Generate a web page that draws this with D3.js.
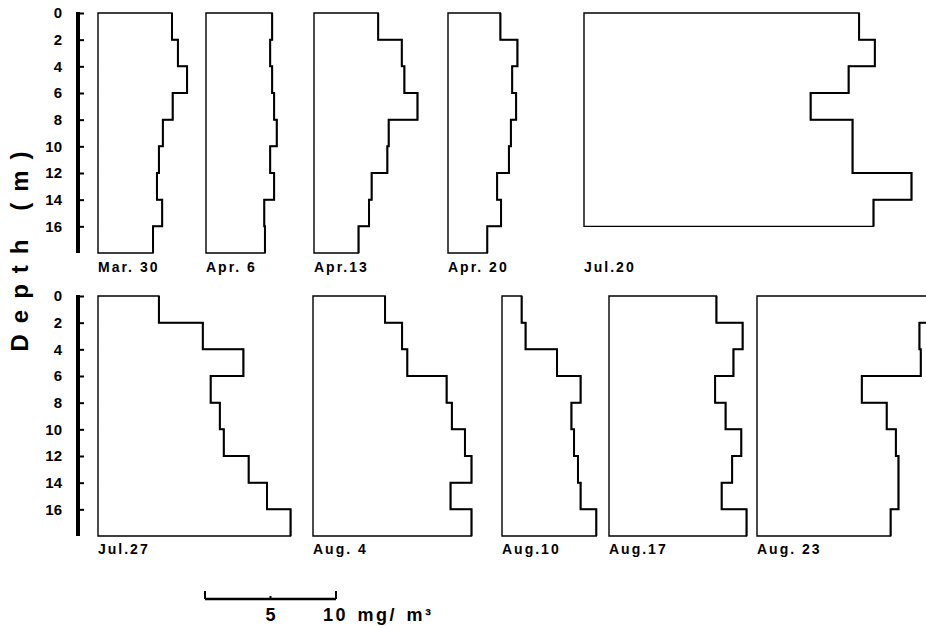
<!DOCTYPE html>
<html>
<head>
<meta charset="utf-8">
<script src="https://cdn.jsdelivr.net/npm/d3@7"></script>
<style>
  html, body { margin: 0; padding: 0; background: #fff; }
  svg { display: block; }
  text { font-family: "Liberation Sans", Arial, Helvetica, sans-serif; font-weight: bold; fill: #000; }
</style>
</head>
<body>
<svg id="chart" width="926" height="628"></svg>
<script>
// ---------------- data ----------------
// chlorophyll concentration (mg/m3) per 2 m depth layer, from the surface down
const depthTicks = [0, 2, 4, 6, 8, 10, 12, 14, 16];
const layerThickness = 2;
const scaleBarTicks = [0, 5, 10];

const topDates    = ["Mar. 30", "Apr. 6", "Apr.13", "Apr. 20", "Jul.20"];
const bottomDates = ["Jul.27", "Aug. 4", "Aug.10", "Aug.17", "Aug. 23"];

const mar30 = [5.65, 6.1, 6.8, 5.7, 4.95, 4.65, 4.5, 4.9, 4.2];
const apr6  = [5.05, 4.9, 5.05, 5.2, 5.4, 4.9, 5.2, 4.45, 4.5];
const apr13 = [4.9, 6.7, 6.9, 7.9, 5.7, 5.6, 4.4, 4.2, 3.4];
const apr20 = [4.0, 5.3, 4.9, 5.2, 4.8, 4.65, 3.75, 4.05, 3.0];
const jul20 = [21.0, 22.2, 20.2, 17.3, 20.5, 20.5, 25.0, 22.1];
const jul27 = [4.65, 8.0, 11.1, 8.6, 9.3, 9.6, 11.5, 12.9, 14.7];
const aug4  = [5.5, 6.8, 7.2, 10.2, 10.6, 11.6, 12.1, 10.5, 12.1];
const aug10 = [1.5, 1.8, 4.2, 6.0, 5.3, 5.5, 5.8, 6.0, 7.2];
const aug17 = [8.2, 10.2, 9.5, 8.1, 8.9, 10.1, 9.4, 8.6, 10.5];
const aug23 = [13.6, 12.4, 12.5, 8.0, 9.9, 10.6, 10.8, 10.8, 10.2];

const topProfiles    = [mar30, apr6, apr13, apr20, jul20];
const bottomProfiles = [jul27, aug4, aug10, aug17, aug23];

// ---------------- layout ----------------
const svg = d3.select("#chart");
const axisX = 78;
const rows = [
  { top: 13,  dates: topDates,    profiles: topProfiles,    left: [98, 206, 314, 448, 584] },
  { top: 296, dates: bottomDates, profiles: bottomProfiles, left: [98, 313, 502, 609, 757] }
];
const maxDepth = 18;
const rowHeight = 240;

// concentration scale (shared by all panels and the scale bar)
const x = d3.scaleLinear().domain([0, 10]).range([0, 131]);

const line = d3.line().x(d => d[0]).y(d => d[1]);

rows.forEach(row => {
  const y = d3.scaleLinear().domain([0, maxDepth]).range([row.top, row.top + rowHeight]);

  // depth axis
  const g = svg.append("g").attr("transform", `translate(${axisX},0)`);
  g.call(d3.axisLeft(y).tickValues(depthTicks).tickSizeInner(-6).tickSizeOuter(0).tickPadding(16));
  g.select(".domain").remove();
  g.selectAll(".tick line").attr("stroke", "#000").attr("stroke-width", 2);
  g.selectAll(".tick text")
    .style("font-size", "15px")
    .style("font-family", '"Liberation Sans", Arial, sans-serif')
    .style("font-weight", "bold")
    .attr("fill", "#000");
  g.append("line")
    .attr("x1", 0).attr("x2", 0)
    .attr("y1", y(0) - 1).attr("y2", y(maxDepth))
    .attr("stroke", "#000").attr("stroke-width", 4);

  // profile panels
  row.profiles.forEach((vals, i) => {
    const x0 = row.left[i];
    const pts = [[x0, y(0)]];
    vals.forEach((v, k) => {
      pts.push([x0 + x(v), y(k * layerThickness)]);
      pts.push([x0 + x(v), y((k + 1) * layerThickness)]);
    });
    const bottomDepth = vals.length * layerThickness;
    pts.push([x0, y(bottomDepth)]);

    svg.append("path")
      .attr("d", line(pts) + "Z")
      .attr("fill", "none")
      .attr("stroke", "#000")
      .attr("stroke-width", 1.4);
    // heavier right-hand profile edge
    svg.append("path")
      .attr("d", line(pts.slice(1, pts.length - 1)))
      .attr("fill", "none")
      .attr("stroke", "#000")
      .attr("stroke-width", 2);

    svg.append("text")
      .attr("x", x0)
      .attr("y", row.top + rowHeight + (row.top < 100 ? 19 : 18))
      .style("font-size", "14px")
      .style("letter-spacing", "2px")
      .text(row.dates[i]);
  });
});

// depth title
svg.append("text")
  .attr("transform", "translate(28,246) rotate(-90)")
  .attr("text-anchor", "middle")
  .style("font-size", "24px")
  .style("letter-spacing", "11px")
  .text("Depth (m)");

// scale bar
const sbX = 205, sbY = 599;
const sb = svg.append("g");
sb.append("line")
  .attr("x1", sbX + x(0)).attr("x2", sbX + x(10))
  .attr("y1", sbY).attr("y2", sbY)
  .attr("stroke", "#000").attr("stroke-width", 2.5);
sb.selectAll("line.tk").data(scaleBarTicks).enter().append("line")
  .attr("class", "tk")
  .attr("x1", d => sbX + x(d)).attr("x2", d => sbX + x(d))
  .attr("y1", d => d === 5 ? sbY - 3 : sbY - 8).attr("y2", sbY)
  .attr("stroke", "#000").attr("stroke-width", 2);
sb.append("text")
  .attr("x", sbX + x(5)).attr("y", 621)
  .attr("text-anchor", "middle")
  .style("font-size", "18px")
  .text("5");
sb.append("text")
  .attr("x", sbX + x(10) - 13).attr("y", 621)
  .style("font-size", "18px")
  .style("letter-spacing", "2.5px")
  .style("word-spacing", "2px")
  .text("10 mg/ m³");
</script>
</body>
</html>
